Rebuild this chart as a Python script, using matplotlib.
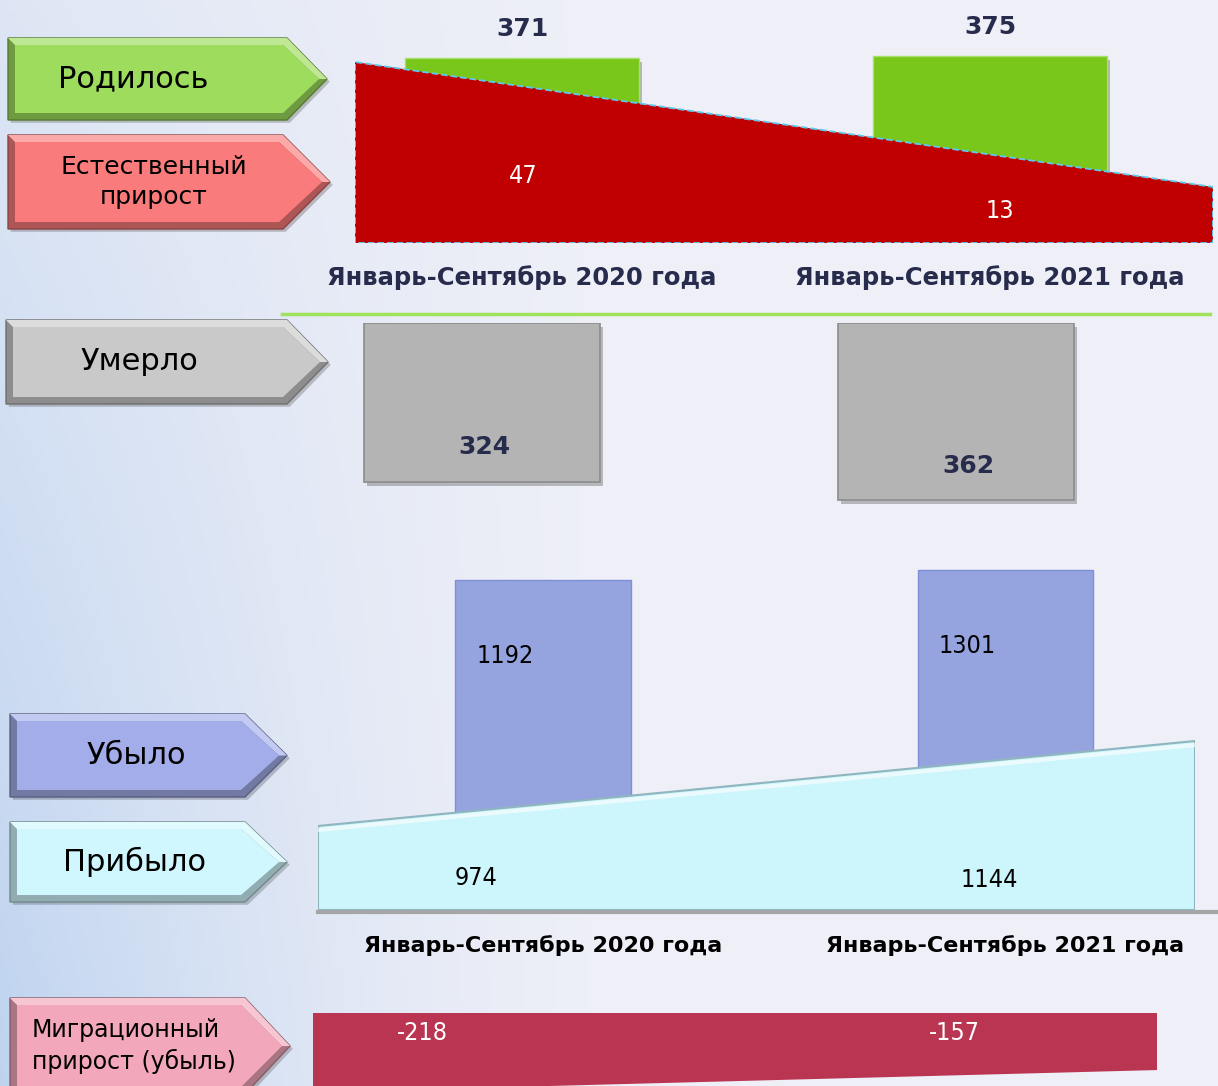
import matplotlib
matplotlib.use("Agg")
import matplotlib.pyplot as plt
import matplotlib.patheffects as pe
import numpy as np
from matplotlib import font_manager
from matplotlib.patches import Polygon

# Data
periods = ["Январь-Сентябрь 2020 года", "Январь-Сентябрь 2021 года"]
born = [371, 375]
natural_growth = [47, 13]
died = [324, 362]
departed = [1192, 1301]
arrived = [974, 1144]
migration_growth = [-218, -157]

W, H = 1218, 1086
NAVY = "#272b4c"

# condensed font for the numbers inside the shapes, if one is installed
_names = {f.name for f in font_manager.fontManager.ttflist}
if "Liberation Sans Narrow" in _names:
    NARROW = dict(family="Liberation Sans Narrow")
else:
    NARROW = dict(family="DejaVu Sans", fontstretch="condensed")

fig = plt.figure(figsize=(W / 100, H / 100), dpi=100)

# background layer in pixel coordinates
bg = fig.add_axes([0, 0, 1, 1])
bg.set_xlim(0, W)
bg.set_ylim(H, 0)
bg.axis("off")

gx, gy = np.meshgrid(np.linspace(0, 1, 300), np.linspace(0, 1, 300))
w = np.clip(1 - gx / 0.5, 0, 1) ** 1.4 * (0.35 + 0.65 * gy)
c_light = np.array([0.935, 0.94, 0.97])
c_blue = np.array([0.75, 0.83, 0.94])
img = c_light[None, None, :] * (1 - w[..., None]) + c_blue[None, None, :] * w[..., None]
bg.imshow(img, extent=[0, W, H, 0], aspect="auto", zorder=0)


def px_axes(x0, y0, x1, y1):
    ax = fig.add_axes([x0 / W, 1 - y1 / H, (x1 - x0) / W, (y1 - y0) / H])
    ax.set_facecolor("none")
    for s in ax.spines.values():
        s.set_visible(False)
    ax.set_xticks([])
    ax.set_yticks([])
    return ax


def shade(color, f):
    c = np.array(matplotlib.colors.to_rgb(color))
    if f < 0:
        return tuple(c * (1 + f))
    return tuple(c + (1 - c) * f)


def arrow_label(x0, y0, x1, y1, tip, color, text, size, tx=None, **kw):
    ym = (y0 + y1) / 2
    outer = [(x0, y0), (tip, y0), (x1, ym), (tip, y1), (x0, y1)]
    bg.add_patch(Polygon(outer, closed=True, facecolor=shade(color, -0.3),
                         edgecolor=shade(color, -0.45), lw=1, zorder=2,
                         path_effects=[pe.withSimplePatchShadow(offset=(2, -2), alpha=0.25)]))
    top = [(x0, y0), (tip, y0), (x1, ym), (x1 - 8, ym), (tip - 4, y0 + 7), (x0 + 7, y0 + 7)]
    bg.add_patch(Polygon(top, closed=True, facecolor=shade(color, 0.35), lw=0, zorder=3))
    inner = [(x0 + 7, y0 + 7), (tip - 4, y0 + 7), (x1 - 8, ym), (tip - 4, y1 - 7), (x0 + 7, y1 - 7)]
    bg.add_patch(Polygon(inner, closed=True, facecolor=color, lw=0, zorder=4))
    if tx is None:
        tx = (x0 + tip) / 2
    bg.text(tx, ym, text, fontsize=size, color="black", zorder=5, va="center", **kw)


shadow = [pe.withSimplePatchShadow(offset=(2, -3), alpha=0.3)]
x = np.arange(len(periods))

# --- births and natural growth ---
ax1 = px_axes(355, 0, 1213, 243)
ax1.bar(x, born, width=0.5, color="#78c71a", edgecolor="#a7e06a", lw=1, path_effects=shadow)
ax1.set_xlim(-0.357, 1.476)
ax1.set_ylim(0, 486)
for xi, v in zip(x, born):
    ax1.annotate(str(v), (xi, v), xytext=(0, 12), textcoords="offset points",
                 ha="center", va="bottom", fontsize=18, fontweight="bold", color=NAVY)
ax1.set_xticks(x, periods)
ax1.tick_params(axis="x", length=0, pad=16, labelsize=17.5, labelcolor=NAVY)
for lbl in ax1.get_xticklabels():
    lbl.set_fontweight("bold")

ax1a = px_axes(355, 0, 1213, 243)
ax1a.set_xlim(0, 1)
ax1a.set_ylim(-2.24, 63.86)
ax1a.fill_between([0, 1], natural_growth, -2.24, facecolor="#c00000",
                  edgecolor="#5ec8ee", linestyle="--", lw=1.3)
for (lx, ly), v in zip([(0.196, 0.276), (0.752, 0.132)], natural_growth):
    ax1a.text(lx, ly, str(v), transform=ax1a.transAxes, ha="center", va="center",
              fontsize=18, color="white", **NARROW)

bg.plot([282, 1210], [314, 314], color="#9ee35b", lw=2.5, zorder=1)

# --- deaths ---
ax2 = px_axes(355, 323, 1213, 563)
ax2.bar(x, died, width=0.498, color="#b4b4b4", edgecolor="#8c8c8c", lw=1.2, path_effects=shadow)
ax2.set_xlim(-0.268, 1.542)
ax2.set_ylim(490, 0)
for xi, v, dx in zip(x, died, [2, 9]):
    ax2.annotate(str(v), (xi, v), xytext=(dx, 25), textcoords="offset points",
                 ha="center", va="center", fontsize=18, fontweight="bold", color=NAVY)

# --- migration: departed bars and arrived area ---
ax3 = px_axes(318, 540, 1195, 910)
ymin3 = -2400
ax3.bar(x, [v - ymin3 for v in departed], bottom=ymin3, width=0.379,
        color="#95a4df", edgecolor="#7f8fd6", lw=1)
ax3.set_xlim(-0.487, 1.411)
ax3.set_ylim(ymin3, 1627)
for xi, v in zip(x, departed):
    ax3.annotate(str(v), (xi, v), xytext=(-27, -55), textcoords="offset points",
                 ha="center", va="center", fontsize=18, color="black", **NARROW)
ax3.set_xticks(x, periods)
ax3.tick_params(axis="x", length=0, pad=18, labelsize=16, labelcolor="black")
for lbl in ax3.get_xticklabels():
    lbl.set_fontweight("bold")

ax3a = px_axes(318, 540, 1195, 910)
ax3a.set_xlim(0, 1)
ax3a.set_ylim(806, 1546)
ax3a.fill_between([0, 1], arrived, 806, facecolor="#ccf5fc", edgecolor="#8fb6bf", lw=1.5,
                  path_effects=[pe.withSimplePatchShadow(offset=(3, -3), alpha=0.35)])
ax3a.plot([0, 1], [a - 8 for a in arrived], color="white", lw=3, alpha=0.6)
for (lx, ly), v in zip([(0.18, 0.086), (0.766, 0.08)], arrived):
    ax3a.text(lx, ly, str(v), transform=ax3a.transAxes, ha="center", va="center",
              fontsize=18, color="black", **NARROW)

bg.plot([318, 1218], [912, 912], color="#a5a5a5", lw=3, zorder=1)

# --- migration growth ---
ax4 = px_axes(313, 1013, 1157, 1130)
ax4.set_xlim(0, 1)
ax4.set_ylim(-322, 0)
ax4.fill_between([0, 1], migration_growth, 0, facecolor="#b93552", lw=0)
for lx, v in zip([0.13, 0.76], migration_growth):
    ax4.text(lx, 0.83, str(v), transform=ax4.transAxes, ha="center", va="center",
             fontsize=18, color="white", **NARROW)

# --- arrow labels ---
arrow_label(8, 38, 327, 120, 287, "#9ddc5c", "Родилось", 22, ha="center", tx=133)
arrow_label(8, 135, 330, 229, 283, "#f97b7b", "Естественный\nприрост", 18, ha="center",
            tx=154, linespacing=1.35)
arrow_label(6, 320, 328, 404, 287, "#c9c9c9", "Умерло", 22, ha="center", tx=139)
arrow_label(10, 714, 287, 797, 245, "#a3ade9", "Убыло", 22, ha="center", tx=136)
arrow_label(10, 822, 287, 902, 245, "#cff7fd", "Прибыло", 22, ha="center", tx=135)
arrow_label(10, 998, 290, 1094, 245, "#f3a7bb", "Миграционный\nприрост (убыль)", 17,
            ha="left", tx=32, linespacing=1.3)

fig.savefig("out.png", dpi=100)
